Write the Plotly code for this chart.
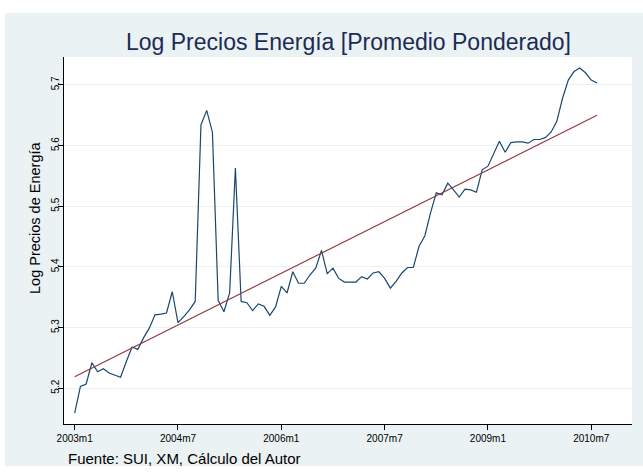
import plotly.graph_objects as go

# Monthly index: 0 = 2003m1
months = list(range(92))
log_prices = [
    5.159, 5.203, 5.207, 5.242, 5.227, 5.232, 5.225, 5.221, 5.218, 5.244,
    5.268, 5.264, 5.283, 5.299, 5.321, 5.322, 5.324, 5.359, 5.308, 5.318,
    5.329, 5.343, 5.634, 5.658, 5.622, 5.345, 5.326, 5.357, 5.563, 5.343,
    5.341, 5.328, 5.339, 5.335, 5.320, 5.334, 5.368, 5.357, 5.392, 5.373,
    5.373, 5.387, 5.398, 5.427, 5.389, 5.398, 5.381, 5.375, 5.375, 5.375,
    5.384, 5.380, 5.390, 5.392, 5.381, 5.365, 5.376, 5.390, 5.399, 5.399,
    5.434, 5.451, 5.489, 5.522, 5.519, 5.538, 5.527, 5.515, 5.528, 5.527,
    5.523, 5.560, 5.566, 5.588, 5.607, 5.589, 5.605, 5.606, 5.606, 5.604,
    5.610, 5.610, 5.613, 5.622, 5.640, 5.678, 5.708, 5.722, 5.728, 5.720,
    5.708, 5.703,
]
trend_months = [0, 91]
trend_values = [5.219, 5.650]

x_tickvals = [0, 18, 36, 54, 72, 90]
x_ticktext = ["2003m1", "2004m7", "2006m1", "2007m7", "2009m1", "2010m7"]
y_tickvals = [5.2, 5.3, 5.4, 5.5, 5.6, 5.7]

BG = "#eaf2f3"
FONT = "Liberation Sans, Arial, sans-serif"

fig = go.Figure()
fig.add_trace(go.Scatter(x=months, y=log_prices, mode="lines",
                         line=dict(color="#1a476f", width=1.2), showlegend=False))
fig.add_trace(go.Scatter(x=trend_months, y=trend_values, mode="lines",
                         line=dict(color="#90353b", width=1.1), showlegend=False))

W, H = 643, 472
L, R, T, B = 64, 11, 57, 48
pw, ph = W - L - R, H - T - B

def px_x(px):
    return (px - L) / pw

def px_y(py):
    return (H - B - py) / ph

fig.update_layout(
    width=W, height=H,
    margin=dict(l=L, r=R, t=T, b=B, pad=0),
    paper_bgcolor=BG, plot_bgcolor="white",
    font=dict(family=FONT, color="#000000"),
    xaxis=dict(range=[-1.86, 97.1], tickvals=x_tickvals, ticktext=x_ticktext,
               showgrid=False, zeroline=False, showline=True, linecolor="black",
               linewidth=1, ticks="outside", ticklen=5, tickcolor="black",
               tickfont=dict(size=10, family=FONT)),
    yaxis=dict(range=[5.141, 5.746], tickvals=y_tickvals,
               ticktext=[f"{v:.1f}" for v in y_tickvals],
               showgrid=True, gridcolor=BG, gridwidth=1, zeroline=False,
               showline=True, linecolor="black", linewidth=1,
               ticks="outside", ticklen=5, tickcolor="black", tickangle=-90,
               ticklabelstandoff=-5,
               tickfont=dict(size=10, family=FONT)),
    shapes=[
        dict(type="rect", xref="paper", yref="paper", x0=px_x(0), x1=px_x(W),
             y0=px_y(13), y1=px_y(0), fillcolor="white", line_width=0, layer="above"),
        dict(type="rect", xref="paper", yref="paper", x0=px_x(0), x1=px_x(5),
             y0=px_y(H), y1=px_y(0), fillcolor="white", line_width=0, layer="above"),
        dict(type="rect", xref="paper", yref="paper", x0=px_x(0), x1=px_x(W),
             y0=px_y(H), y1=px_y(466), fillcolor="white", line_width=0, layer="above"),
    ],
    annotations=[
        dict(text="Log Precios Energía [Promedio Ponderado]", xref="paper", yref="paper",
             x=px_x(348), y=px_y(42), xanchor="center", yanchor="middle",
             showarrow=False, font=dict(size=23, color="#1c2b55", family=FONT)),
        dict(text="Log Precios de Energía", xref="paper", yref="paper",
             x=px_x(35), y=px_y(218), xanchor="center", yanchor="middle",
             textangle=-90, showarrow=False, font=dict(size=14.5, color="#000000", family=FONT)),
        dict(text="Fuente: SUI, XM, Cálculo del Autor", xref="paper", yref="paper",
             x=px_x(66), y=px_y(458), xanchor="left", yanchor="middle",
             showarrow=False, font=dict(size=15, color="#000000", family=FONT)),
    ],
)

fig.write_html("out.html", config={"displayModeBar": False},
               post_script="document.body.style.margin='0';")
